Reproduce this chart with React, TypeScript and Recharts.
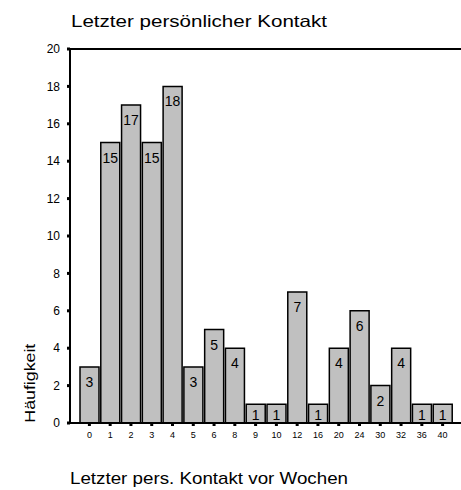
import React from "react";
import {
  BarChart,
  Bar,
  XAxis,
  YAxis,
  LabelList,
  ReferenceLine,
} from "recharts";

const weeks = ["0", "1", "2", "3", "4", "5", "6", "8", "9", "10", "12", "16", "20", "24", "30", "32", "36", "40"];
const counts = [3, 15, 17, 15, 18, 3, 5, 4, 1, 1, 7, 1, 4, 6, 2, 4, 1, 1];
const yTicks = [0, 2, 4, 6, 8, 10, 12, 14, 16, 18, 20];

const chartData = weeks.map((w, i) => ({ week: w, count: counts[i] }));

const font = "'Liberation Sans', Arial, sans-serif";

// value sits near the top of the bar, squeezed down for the short ones
function BarValue(props: any) {
  const { x, y, width, height, value } = props;
  const base = y + Math.min(20, height - 3.5);
  return (
    <text
      x={x + width / 2}
      y={base}
      textAnchor="middle"
      fontSize={14}
      fontFamily={font}
      fill="#000"
    >
      {value}
    </text>
  );
}

export default function App() {
  return (
    <div
      style={{
        position: "absolute",
        left: 0,
        top: 0,
        width: 461,
        height: 490,
        background: "#fff",
      }}
    >
      <BarChart
        width={461}
        height={490}
        data={chartData}
        margin={{ top: 49, right: 0, bottom: 37, left: 0 }}
        barCategoryGap={1}
      >
        <XAxis
          dataKey="week"
          height={30}
          padding={{ left: 9, right: 8 }}
          axisLine={{ stroke: "#000", strokeWidth: 2 }}
          tickLine={{ stroke: "#000", strokeWidth: 3 }}
          tickSize={3}
          tickMargin={6}
          interval={0}
          tick={{ fontSize: 9, fill: "#000", fontFamily: font }}
        />
        <YAxis
          width={70}
          domain={[0, 20]}
          ticks={yTicks}
          interval={0}
          axisLine={{ stroke: "#000", strokeWidth: 2 }}
          tickLine={{ stroke: "#000", strokeWidth: 3 }}
          tickSize={3}
          tickMargin={7}
          tick={{ fontSize: 12, fill: "#000", fontFamily: font }}
        />
        <ReferenceLine y={20} stroke="#000" strokeWidth={2} />
        <Bar
          dataKey="count"
          fill="#c0c0c0"
          stroke="#000"
          strokeWidth={1.5}
          isAnimationActive={false}
        >
          <LabelList dataKey="count" content={BarValue} />
        </Bar>
      </BarChart>
      <svg
        width={461}
        height={490}
        style={{ position: "absolute", left: 0, top: 0, pointerEvents: "none" }}
        fontFamily={font}
      >
        <text x={71} y={26.7} fontSize={16.5} textLength={256} lengthAdjust="spacingAndGlyphs">
          Letzter persönlicher Kontakt
        </text>
        <text x={70} y={484.3} fontSize={17} textLength={278} lengthAdjust="spacingAndGlyphs">
          Letzter pers. Kontakt vor Wochen
        </text>
        <text
          transform="translate(35, 422.7) rotate(-90)"
          fontSize={14}
          textLength={79}
          lengthAdjust="spacingAndGlyphs"
        >
          Häufigkeit
        </text>
      </svg>
    </div>
  );
}
